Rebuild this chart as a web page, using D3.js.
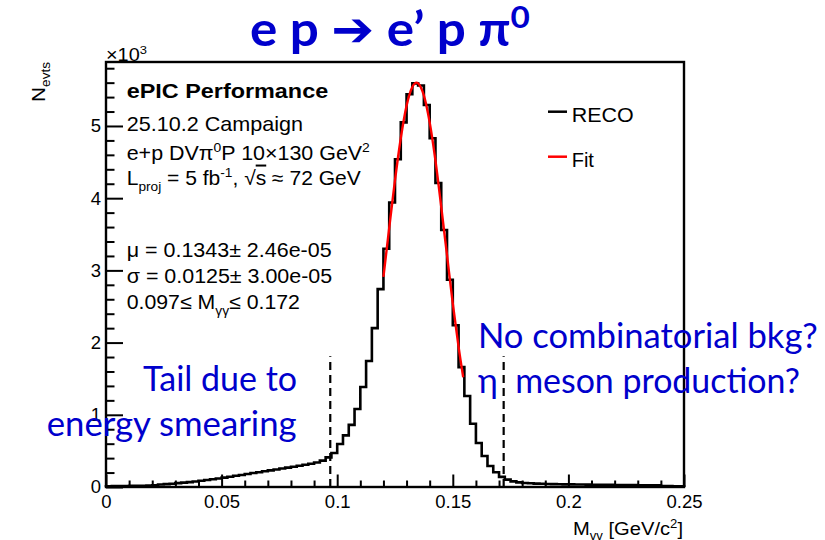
<!DOCTYPE html>
<html><head><meta charset="utf-8">
<script src="https://cdn.jsdelivr.net/npm/d3@7"></script>
<style>html,body{margin:0;padding:0;background:#fff;} svg{display:block;} text{white-space:pre;}</style>
</head><body><svg id="c" width="825" height="540"></svg>
<script>
// ---------- data ----------
const binLowEdge = 0;
const binWidth = 0.0025;
// RECO histogram bin contents (x10^3 events), 100 bins from 0 to 0.25 GeV/c^2
const counts = [
  0.010,0.012,0.013,0.014,0.015,0.016,0.018,0.020,0.024,0.034,
  0.040,0.046,0.053,0.060,0.068,0.076,0.086,0.097,0.108,0.118,
  0.130,0.143,0.155,0.167,0.180,0.193,0.205,0.218,0.230,0.243,
  0.256,0.268,0.280,0.294,0.308,0.323,0.340,0.365,0.410,0.470,
  0.595,0.715,0.860,1.080,1.385,1.745,2.200,2.740,3.300,3.940,
  4.540,5.050,5.440,5.590,5.560,5.290,4.830,4.210,3.560,2.870,
  2.240,1.660,1.260,0.875,0.610,0.430,0.290,0.205,0.140,0.102,
  0.078,0.064,0.056,0.051,0.047,0.044,0.042,0.040,0.038,0.037,
  0.036,0.035,0.034,0.033,0.032,0.031,0.030,0.029,0.028,0.027,
  0.027,0.026,0.025,0.025,0.024,0.023,0.012,0.012,0.011,0.010
];
// Fit curve
const fitX = [0.1200,0.1225,0.1250,0.1275,0.1300,0.1325,0.1343,0.1350,0.1375,0.1400,0.1425,0.1450,0.1475,0.1500,0.1525,0.1545];
const fitY = [2.91,3.59,4.25,4.83,5.28,5.54,5.60,5.59,5.42,5.05,4.52,3.88,3.21,2.54,1.94,1.52];
const xTickValues = [0,0.05,0.1,0.15,0.2,0.25];
const xTickLabels = ["0","0.05","0.1","0.15","0.2","0.25"];
const xMinorTicks = [0.01,0.02,0.03,0.04,0.06,0.07,0.08,0.09,0.11,0.12,0.13,0.14,0.16,0.17,0.18,0.19,0.21,0.22,0.23,0.24];
const yTickValues = [0,1,2,3,4,5];
const yTickLabels = ["0","1","2","3","4","5"];
const yMinorTicks = [0.2,0.4,0.6,0.8,1.2,1.4,1.6,1.8,2.2,2.4,2.6,2.8,3.2,3.4,3.6,3.8,4.2,4.4,4.6,4.8,5.2,5.4,5.6,5.8];
const cutValues = [0.097, 0.172];
const cutLineTop = 1.81;
const legendLabels = ["RECO","Fit"];
const legendColors = ["#000000","#ff0000"];

// ---------- layout ----------
const L = 106, R = 684, T = 62, B = 487;
const svg = d3.select("#c");
svg.append("rect").attr("width",825).attr("height",540).attr("fill","#fff");
const x = d3.scaleLinear().domain([0,0.25]).range([L,R]);
const y = d3.scaleLinear().domain([0,5.886]).range([B,T]);
const ROOTF = "'Liberation Sans', Arial, Helvetica, sans-serif";
const BLUEF = "Lato, 'Open Sans', sans-serif";
const BLUE = "#0000cc";

function addRich(t, parts, size) {
  let shift = 0;
  parts.forEach(p => {
    const str = Array.isArray(p) ? p[0] : p;
    const mode = Array.isArray(p) ? p[1] : null;
    let target = 0, fs = size;
    if (mode === "sup") { target = -0.38*size; fs = 0.65*size; }
    else if (mode === "sub") { target = 0.28*size; fs = 0.65*size; }
    const ts = t.append("tspan").text(str).attr("font-size", fs);
    if (mode && mode.family) ts.attr("font-family", mode.family);
    if (Math.abs(target - shift) > 0.01) { ts.attr("dy", target - shift); shift = target; }
    if (mode === "over") ts.attr("text-decoration","overline");
  });
}
function label(px, py, o, parts, targetW) {
  const g = svg.append("g");
  const t = g.append("text")
    .attr("text-anchor", o.anchor || "start")
    .attr("font-family", o.family || ROOTF)
    .attr("font-size", o.size)
    .attr("font-weight", o.weight || "normal")
    .attr("fill", o.fill || "#000");
  addRich(t, parts, o.size);
  let sx = 1;
  if (targetW) { const w = t.node().getBBox().width; if (w > 0) sx = targetW / w; }
  g.attr("transform", `translate(${px},${py})` + (o.rotate ? ` rotate(${o.rotate})` : "") + ` scale(${sx},1)`);
  return g;
}

// ---------- histogram ----------
const histPts = [[binLowEdge, 0]];
counts.forEach((c, i) => {
  const lo = binLowEdge + i*binWidth;
  histPts.push([lo, c], [lo + binWidth, c]);
});
histPts.push([binLowEdge + counts.length*binWidth, 0]);
svg.append("path")
  .attr("d", d3.line().x(d => x(d[0])).y(d => y(d[1]))(histPts))
  .attr("fill","none").attr("stroke","#000").attr("stroke-width",2.6).attr("stroke-linejoin","miter");

// fit
svg.append("path")
  .attr("d", d3.line().x((d,i) => x(fitX[i])).y(d => y(d)).curve(d3.curveMonotoneX)(fitY))
  .attr("fill","none").attr("stroke","#ff0000").attr("stroke-width",2.4);

// cut lines
svg.selectAll(".cut").data(cutValues).enter().append("line")
  .attr("x1", d => x(d)).attr("x2", d => x(d))
  .attr("y1", y(0)).attr("y2", y(cutLineTop))
  .attr("stroke","#000").attr("stroke-width",2.2).attr("stroke-dasharray","8,5");

// ---------- axes ----------
const axF = 18.5;
const gx = svg.append("g").attr("transform", `translate(0,${B})`)
  .call(d3.axisBottom(x).tickValues(xTickValues).tickSizeInner(-12.5).tickSizeOuter(0).tickPadding(8)
        .tickFormat((d,i) => xTickLabels[i]));
const gxm = svg.append("g").attr("transform", `translate(0,${B})`)
  .call(d3.axisBottom(x).tickValues(xMinorTicks).tickSizeInner(-6.5).tickSizeOuter(0).tickFormat(""));
const gy = svg.append("g").attr("transform", `translate(${L},0)`)
  .call(d3.axisLeft(y).tickValues(yTickValues).tickSizeInner(-17).tickSizeOuter(0).tickPadding(5)
        .tickFormat((d,i) => yTickLabels[i]));
const gym = svg.append("g").attr("transform", `translate(${L},0)`)
  .call(d3.axisLeft(y).tickValues(yMinorTicks).tickSizeInner(-8.5).tickSizeOuter(0).tickFormat(""));
[gx,gxm,gy,gym].forEach(g => {
  g.select(".domain").remove();
  g.selectAll("line").attr("stroke","#000").attr("stroke-width",2);
  g.selectAll("text").attr("font-family", ROOTF).attr("font-size", axF).attr("fill","#000");
});

// frame
svg.append("rect").attr("x",L).attr("y",T).attr("width",R-L).attr("height",B-T)
  .attr("fill","none").attr("stroke","#000").attr("stroke-width",2.4);

// axis titles
label(L, 61, {size:18}, ["\u00d710", ["3","sup"]], 41);
label(45, T, {size:19, anchor:"end", rotate:-90}, ["N", ["evts","sub"]], 40);
label(683, 535, {size:19, anchor:"end"}, ["M", ["\u03b3\u03b3","sub"], " [GeV/c", ["2","sup"], "]"], 110);

// ---------- stats / info text ----------
const sx0 = 126.7;
label(sx0, 98, {size:21, weight:"bold"}, ["ePIC Performance"], 201.6);
label(sx0, 130.7, {size:20}, ["25.10.2 Campaign"], 176.6);
label(sx0, 160, {size:20}, ["e+p DV\u03c0", ["0","sup"], "P 10\u00d7130 GeV", ["2","sup"]], 243.3);
label(sx0, 185, {size:20}, ["L", ["proj","sub"], " = 5 fb", ["-1","sup"], ", \u221a", ["s","over"], " \u2248 72 GeV"], 235);
label(sx0, 256.7, {size:20}, ["\u03bc = 0.1343\u00b1 2.46e-05"], 205);
label(sx0, 282.7, {size:20}, ["\u03c3 = 0.0125\u00b1 3.00e-05"], 205.6);
label(sx0, 309.3, {size:20}, ["0.097\u2264 M", ["\u03b3\u03b3","sub"], "\u2264 0.172"], 173.3);

// legend
const legY = [111.7, 156.7];
legendLabels.forEach((lab, i) => {
  svg.append("line").attr("x1",548).attr("x2",567).attr("y1",legY[i]).attr("y2",legY[i])
    .attr("stroke",legendColors[i]).attr("stroke-width",2.5);
  label(571.7, legY[i] + 10.5, {size:20}, [lab], i === 0 ? 62 : 22.7);
});

// ---------- slide annotations ----------
label(250, 46, {size:48, weight:"bold", family:BLUEF, fill:BLUE},
      ["e p ", ["\u2794", {family:"'DejaVu Sans'"}], " e\u2019 p \u03c0", ["0","sup"]], 280);
label(297, 390.7, {size:34, family:BLUEF, fill:BLUE, anchor:"end"}, ["Tail due to"], 154);
label(46.7, 436, {size:34, family:BLUEF, fill:BLUE}, ["energy smearing"], 250);
label(478, 348.3, {size:34, family:BLUEF, fill:BLUE}, ["No combinatorial bkg?"], 340);
label(478, 393, {size:34, family:BLUEF, fill:BLUE}, ["\u03b7  meson production?"], 322);
</script></body></html>
